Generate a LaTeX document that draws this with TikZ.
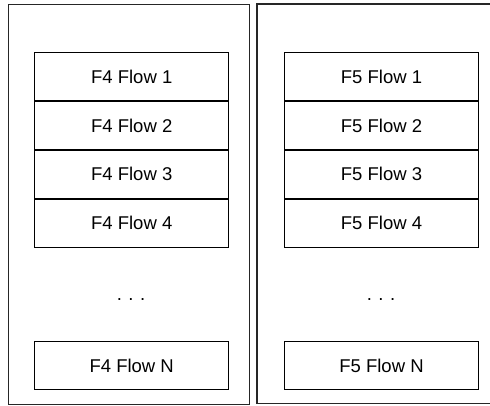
\documentclass[tikz,border=0pt]{standalone}
\usepackage{fontspec}
\setmainfont{Liberation Sans}
\begin{document}
\begin{tikzpicture}[x=1pt,y=-1pt,
  frame/.style={draw=black!85, line width=1.1pt},
  flowbox/.style={draw=black, line width=0.8pt, rectangle, minimum width=194pt,
    minimum height=48pt, inner sep=0pt, font=\fontsize{18.5}{20}\selectfont},
  gap/.style={font=\fontsize{18.5}{20}\selectfont, inner sep=0pt, anchor=base}]
\useasboundingbox (0,0) rectangle (490,405);
\begin{scope}
\clip (0,0) rectangle (490,405);
% left panel
\node[frame, rectangle, minimum width=240.5pt, minimum height=399.5pt, anchor=north west] (p4) at (8,4) {};
% right panel, running past the right margin
\draw[frame] (500,4) -- (257,4) -- (257,403.5) -- (500,403.5);
\end{scope}
% F4 flows
\node[flowbox, anchor=north] (a1) at (131.7,52.3) {F4 Flow 1};
\node[flowbox, anchor=north] (a2) at (a1.south) {F4 Flow 2};
\node[flowbox, anchor=north] (a3) at (a2.south) {F4 Flow 3};
\node[flowbox, anchor=north] (a4) at (a3.south) {F4 Flow 4};
\node[gap] (ad) at (131,300) {.\hspace{0.35em}.\hspace{0.35em}.};
\node[flowbox, anchor=north] (an) at (131.7,341.3) {F4 Flow N};
% F5 flows
\node[flowbox, anchor=north] (b1) at (381.5,52.3) {F5 Flow 1};
\node[flowbox, anchor=north] (b2) at (b1.south) {F5 Flow 2};
\node[flowbox, anchor=north] (b3) at (b2.south) {F5 Flow 3};
\node[flowbox, anchor=north] (b4) at (b3.south) {F5 Flow 4};
\node[gap] (bd) at (381,300) {.\hspace{0.35em}.\hspace{0.35em}.};
\node[flowbox, anchor=north] (bn) at (381.5,341.3) {F5 Flow N};
\end{tikzpicture}
\end{document}
